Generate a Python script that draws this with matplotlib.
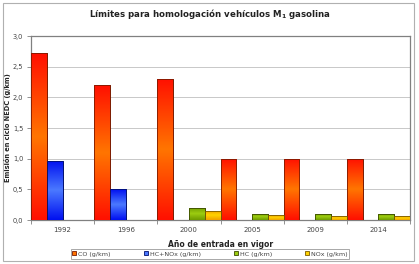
import numpy as np
import matplotlib
matplotlib.use('Agg')
import matplotlib.pyplot as plt
from matplotlib.colors import LinearSegmentedColormap
from matplotlib.patches import Rectangle
from matplotlib.ticker import FuncFormatter

years = ['1992', '1996', '2000', '2005', '2009', '2014']
co = [2.72, 2.2, 2.3, 1.0, 1.0, 1.0]
hc_nox = [0.97, 0.5, 0, 0, 0, 0]
hc = [0, 0, 0.2, 0.1, 0.1, 0.1]
nox = [0, 0, 0.15, 0.08, 0.06, 0.06]

series = [
    ('CO (g/km)', co, '#ff1000', '#ff7400', '#7a1a00'),
    ('HC+NOx (g/km)', hc_nox, '#0010f0', '#4a78ff', '#001070'),
    ('HC (g/km)', hc, '#6e9a00', '#9ccc10', '#3a4a00'),
    ('NOx (g/km)', nox, '#f0a000', '#ffd200', '#7a5a00'),
]

fig = plt.figure(figsize=(4.19, 2.64), dpi=100)
fig.patches.append(Rectangle((0.006, 0.012), 0.982, 0.976, transform=fig.transFigure,
                             fill=False, edgecolor='#b0b0b0', linewidth=0.8))
ax = fig.add_axes([31 / 419, 1 - 220 / 264, 379 / 419, 184 / 264])

x = np.arange(len(years))
width = 0.25
grad = np.concatenate([np.linspace(0, 1, 50), np.linspace(1, 0, 50)]).reshape(-1, 1)

for i, (name, vals, edge_c, mid_c, line_c) in enumerate(series):
    bars = ax.bar(x + (i - 1.5) * width, vals, width, color=mid_c, edgecolor=line_c,
                  linewidth=0.6, label=name, zorder=3)
    cmap = LinearSegmentedColormap.from_list(name, [edge_c, mid_c])
    for b in bars:
        if b.get_height() <= 0:
            continue
        im = ax.imshow(grad, cmap=cmap, aspect='auto', zorder=3.1,
                       extent=[b.get_x(), b.get_x() + b.get_width(), 0, b.get_height()])
        im.set_clip_path(b)
        # outline on top
        ax.add_patch(Rectangle((b.get_x(), 0), b.get_width(), b.get_height(), fill=False,
                               edgecolor=line_c, linewidth=0.6, zorder=3.2))

ax.set_xlim(-0.5, len(years) - 0.5)
ax.set_ylim(0, 3.0)
ax.set_yticks(np.arange(0, 3.01, 0.5))
ax.yaxis.set_major_formatter(FuncFormatter(lambda v, p: f'{v:.1f}'.replace('.', ',')))
ax.set_xticks(x)
ax.set_xticklabels(years)
ax.set_xticks(np.arange(-0.5, len(years), 1), minor=True)
ax.tick_params(axis='x', which='major', length=0, labelsize=5, pad=5, colors='#444444')
ax.tick_params(axis='x', which='minor', length=3, color='#808080', width=0.6)
ax.tick_params(axis='y', length=3, color='#808080', width=0.6, labelsize=4.8,
               pad=2.5, labelcolor='#444444')
ax.grid(axis='y', color='#c8c8c8', linewidth=0.7, zorder=0)
ax.set_axisbelow(True)
for s in ax.spines.values():
    s.set_color('#808080')
    s.set_linewidth(0.9)

fig.text(8 / 419, 1 - 128 / 264, 'Emisión en ciclo NEDC (g/km)', rotation=90,
         ha='center', va='center', fontsize=4.8, fontweight='bold', color='#222222')
ax.set_xlabel('Año de entrada en vigor', fontsize=5.5, fontweight='bold', labelpad=5,
              color='#222222')
fig.text(0.5, 1 - 14 / 264, 'Límites para homologación vehículos M$_\\mathbf{1}$ gasolina',
         ha='center', va='center', fontsize=6.2, fontweight='bold', color='#222222')

handles, labels = ax.get_legend_handles_labels()
leg = fig.legend(handles, labels, loc='center', bbox_to_anchor=(210 / 419, 1 - 254 / 264), ncol=4,
                 fontsize=4.6, frameon=True, fancybox=False, edgecolor='#808080',
                 handlelength=0.6, handleheight=0.6, handletextpad=0.3, columnspacing=5.2,
                 borderpad=0.3, labelcolor='#444444')
leg.get_frame().set_linewidth(0.6)

fig.savefig('out.png', dpi=100)
